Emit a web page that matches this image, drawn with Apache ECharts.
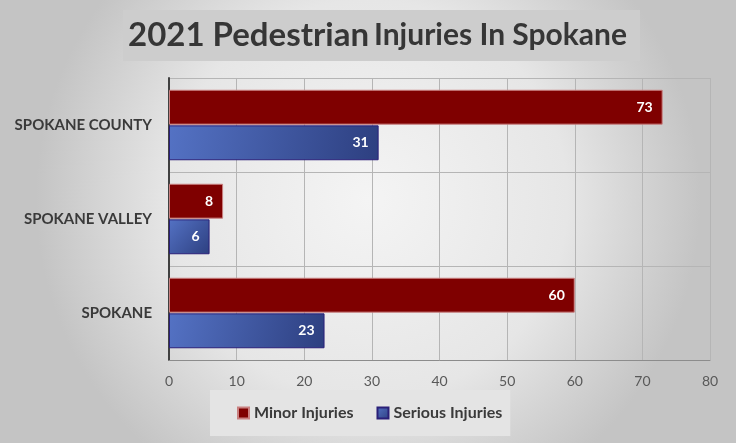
<!DOCTYPE html>
<html><head><meta charset="utf-8">
<script src="https://cdn.jsdelivr.net/npm/echarts@6/dist/echarts.min.js"></script>
<style>html,body{margin:0;padding:0;}#c{width:736px;height:443px;}</style>
</head><body><div id="c"></div>
<script>
const categories = ['SPOKANE COUNTY', 'SPOKANE VALLEY', 'SPOKANE'];
const minorInjuries = [73, 8, 60];
const seriousInjuries = [31, 6, 23];
const seriesNames = ['Minor Injuries', 'Serious Injuries'];
const titleParts = ['2021 Pedestrian', 'Injuries In Spokane'];

const chart = echarts.init(document.getElementById('c'));
const FONT = 'Lato';
chart.setOption({
  backgroundColor: {
    type: 'radial', x: 0.5, y: 0.45, r: 0.75,
    colorStops: [{offset: 0, color: '#f4f4f4'}, {offset: 0.6, color: '#e6e6e6'}, {offset: 1, color: '#c4c4c4'}]
  },
  title: {
    text: '{a|' + titleParts[0] + '} {b|' + titleParts[1] + '}',
    left: 123, top: 10,
    backgroundColor: '#cdcdcd',
    padding: [9, 13, 9, 5],
    textStyle: {
      rich: {
        a: {fontFamily: FONT, fontWeight: 'bold', fontSize: 33, color: '#363636'},
        b: {fontFamily: FONT, fontWeight: 'bold', fontSize: 30, color: '#363636'}
      }
    }
  },
  legend: {
    left: 210, top: 390,
    backgroundColor: '#e4e4e4',
    padding: [15, 8, 15, 27],
    itemWidth: 11, itemHeight: 11, itemGap: 23,
    icon: 'rect',
    textStyle: {fontFamily: FONT, fontWeight: 'bold', fontSize: 16, color: '#3a3a3a'},
    data: seriesNames
  },
  grid: {left: 169, right: 26, top: 78, bottom: 83},
  xAxis: {
    type: 'value', min: 0, max: 80, interval: 10,
    axisLine: {show: true, lineStyle: {color: '#8c8c8c', width: 1}},
    axisTick: {show: false},
    axisLabel: {fontFamily: FONT, fontSize: 14, color: '#595959', margin: 14},
    splitLine: {show: true, lineStyle: {color: '#b5b5b5', width: 1}}
  },
  yAxis: {
    type: 'category', inverse: true, data: categories,
    axisLine: {show: true, lineStyle: {color: '#404040', width: 2}},
    axisTick: {show: false},
    axisLabel: {fontFamily: FONT, fontWeight: 'bold', fontSize: 15, color: '#3a3a3a', margin: 17},
    splitLine: {show: true, lineStyle: {color: '#b5b5b5', width: 1}}
  },
  series: [
    {
      name: seriesNames[0], type: 'bar', data: minorInjuries,
      barGap: '2%', barCategoryGap: '25%',
      itemStyle: {color: '#7f0000', borderColor: '#c98080', borderWidth: 1},
      label: {show: true, position: 'insideRight', distance: 10, fontFamily: FONT, fontWeight: 'bold', fontSize: 14, color: '#ffffff'}
    },
    {
      name: seriesNames[1], type: 'bar', data: seriousInjuries,
      itemStyle: {
        color: {type: 'linear', x: 0, y: 0, x2: 1, y2: 1,
          colorStops: [{offset: 0, color: '#5472c4'}, {offset: 1, color: '#2d3f80'}]},
        borderColor: '#2a1f78', borderWidth: 1
      },
      label: {show: true, position: 'insideRight', distance: 10, fontFamily: FONT, fontWeight: 'bold', fontSize: 14, color: '#ffffff'}
    }
  ]
});
</script></body></html>
